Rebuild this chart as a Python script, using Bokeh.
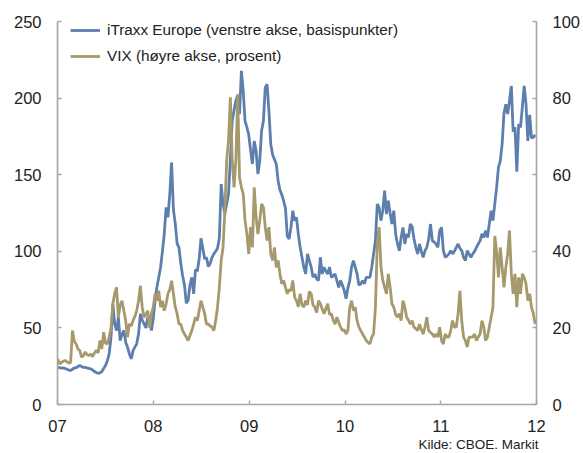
import pandas as pd
from bokeh.plotting import figure
from bokeh.models import (LinearAxis, Range1d, FixedTicker, DatetimeTickFormatter,
                          Legend, LegendItem, Title)
from bokeh.embed import file_html
from bokeh.resources import INLINE

# ---- data (weekly readings, Jan 2007 - Dec 2011) ----
start_date = "2007-01-02"
x_start = "2007-01-01"
x_end = "2012-01-01"
year_ticks = ["2007-01-01", "2008-01-01", "2009-01-01", "2010-01-01", "2011-01-01", "2012-01-01"]
left_ticks = [0, 50, 100, 150, 200, 250]
right_ticks = [0, 20, 40, 60, 80, 100]

itraxx = [
    24.3, 24.0, 23.8, 23.9, 23.5, 23.0, 22.5, 22.2, 23.0, 23.8,
    24.0, 24.8, 25.4, 24.8, 24.2, 24.3, 23.8, 23.5, 23.3, 22.5,
    21.5, 20.8, 20.4, 20.6, 21.5, 23.5, 25.4, 28.5, 33.0, 43.9,
    65.7, 52.6, 48.3, 57.0, 41.7, 46.0, 48.3, 40.7, 37.4, 33.0,
    29.8, 35.2, 37.5, 39.6, 46.1, 59.1, 55.0, 52.6, 50.0, 57.0,
    54.8, 48.3, 56.0, 67.8, 76.5, 83.0, 89.6, 100.0, 111.3, 128.7,
    122.2, 137.4, 158.0, 127.0, 118.0, 105.0, 102.6, 92.0, 84.0, 78.0,
    66.0, 68.0, 78.0, 83.0, 72.2, 88.0, 87.0, 95.0, 108.5, 102.0,
    95.0, 96.0, 90.0, 92.0, 96.0, 98.3, 100.0, 102.0, 108.5, 143.9,
    131.0, 124.3, 131.0, 137.4, 160.0, 185.0, 192.0, 198.3, 202.0, 189.6,
    217.8, 204.8, 185.0, 181.0, 176.0, 166.0, 157.0, 172.0, 165.7, 150.4,
    159.0, 178.7, 185.2, 207.0, 209.0, 191.7, 170.0, 163.0, 160.0, 157.0,
    146.1, 140.0, 137.0, 133.0, 128.0, 110.0, 108.0, 115.6, 126.5, 120.0,
    122.2, 111.3, 102.6, 96.1, 89.6, 85.2, 98.3, 93.9, 89.6, 83.0,
    85.2, 82.0, 80.9, 96.1, 85.2, 89.6, 87.0, 85.2, 89.6, 83.0,
    84.0, 85.2, 80.9, 76.5, 80.9, 78.0, 74.4, 69.0, 76.0, 80.9,
    89.6, 93.9, 89.6, 85.2, 78.0, 78.7, 80.9, 78.7, 83.0, 83.0,
    83.0, 89.6, 98.3, 107.0, 130.9, 128.7, 120.0, 126.5, 139.6, 124.3,
    133.0, 125.0, 117.8, 126.5, 111.3, 105.0, 100.4, 109.1, 115.6, 104.8,
    111.3, 109.1, 117.8, 116.0, 108.0, 102.6, 98.3, 104.8, 100.0, 96.1,
    100.4, 102.6, 108.0, 117.8, 107.0, 106.0, 104.8, 102.6, 113.5, 115.6,
    100.4, 96.1, 97.0, 98.3, 100.4, 98.3, 100.0, 102.6, 104.8, 102.0,
    100.4, 96.1, 93.9, 100.4, 98.3, 96.1, 98.3, 100.0, 102.6, 104.8,
    107.0, 111.3, 109.0, 113.5, 109.0, 117.8, 126.5, 120.0, 130.9, 141.7,
    154.8, 159.0, 170.0, 190.0, 196.0, 189.6, 198.3, 208.0, 178.0, 180.9,
    152.0, 183.0, 180.9, 193.9, 208.0, 196.1, 172.0, 189.0, 174.0, 174.3,
    176.0,
]

vix = [
    11.9, 10.6, 11.0, 11.3, 11.5, 11.2, 10.8, 11.0, 19.3, 16.5,
    15.8, 14.5, 14.1, 12.3, 12.8, 13.7, 13.0, 12.8, 13.2, 12.5,
    13.5, 14.1, 13.5, 16.7, 14.5, 18.9, 16.0, 15.8, 17.6, 20.0,
    26.3, 28.9, 30.6, 22.8, 26.0, 27.1, 24.5, 21.9, 17.6, 21.0,
    20.5, 21.9, 23.0, 24.5, 27.1, 31.0, 25.4, 22.8, 23.5, 24.5,
    20.0, 23.7, 25.4, 28.9, 27.1, 29.7, 25.4, 27.1, 24.5, 26.3,
    28.9, 30.0, 32.3, 28.9, 25.4, 23.7, 21.0, 21.0, 19.3, 18.4,
    17.6, 16.7, 18.0, 19.3, 21.0, 22.8, 21.9, 24.5, 27.1, 25.4,
    23.7, 21.0, 21.0, 20.5, 20.2, 19.3, 21.9, 25.4, 30.6, 37.6,
    41.0, 50.6, 63.7, 69.0, 80.2, 64.0, 56.7, 63.7, 81.0, 59.3,
    56.7, 55.0, 48.0, 44.5, 39.3, 46.3, 41.0, 56.7, 48.9, 44.5,
    48.0, 52.4, 51.5, 46.3, 42.8, 46.3, 39.3, 37.6, 41.0, 35.8,
    37.6, 34.1, 31.5, 32.4, 30.6, 28.9, 30.0, 29.7, 32.4, 28.0,
    27.1, 25.5, 28.9, 26.0, 25.4, 27.1, 26.0, 29.5, 28.9, 26.0,
    25.4, 24.0, 27.1, 26.3, 25.0, 23.7, 25.0, 26.3, 23.5, 23.7,
    22.0, 21.0, 22.8, 21.5, 20.2, 19.3, 19.5, 18.4, 19.3, 25.4,
    27.1, 24.5, 25.4, 21.9, 20.2, 19.3, 18.4, 17.6, 16.7, 16.2,
    15.8, 17.6, 18.4, 25.4, 41.9, 46.3, 36.0, 32.4, 30.6, 28.9,
    34.1, 30.6, 26.3, 25.4, 23.5, 22.8, 23.7, 21.9, 27.1, 25.4,
    22.8, 22.0, 21.0, 21.9, 20.2, 19.8, 19.3, 21.0, 19.5, 18.4,
    20.2, 22.8, 19.3, 18.8, 18.4, 17.6, 18.4, 17.6, 20.2, 16.7,
    15.8, 18.4, 17.6, 17.6, 19.3, 21.9, 20.2, 20.2, 23.7, 29.7,
    21.9, 17.6, 16.7, 15.0, 17.6, 17.6, 17.6, 18.4, 16.7, 17.6,
    18.4, 21.9, 20.2, 16.7, 17.6, 20.2, 22.8, 25.4, 44.0, 40.0,
    33.2, 41.0, 35.8, 30.6, 35.8, 39.3, 45.4, 34.1, 28.9, 34.1,
    25.4, 33.2, 28.9, 34.1, 33.2, 31.5, 27.1, 28.9, 25.4, 23.7,
    21.0,
]

label_itraxx = "iTraxx Europe (venstre akse, basispunkter)"
label_vix = "VIX (høyre akse, prosent)"
source_text = "Kilde: CBOE. Markit"

# ---- styling ----
BLUE = "#5d7fae"
KHAKI = "#a6996c"
AXIS = "#a6a6a6"
TEXT = "#222222"
FONT = "Liberation Sans"

dates = pd.date_range(start_date, periods=len(itraxx), freq="7D")

def ms(d):
    return pd.Timestamp(d).value / 1e6

p = figure(width=583, height=453, x_axis_type="datetime",
           output_backend="svg", toolbar_location=None,
           x_range=Range1d(ms(x_start), ms(x_end)),
           y_range=Range1d(0, 250),
           min_border_left=57, min_border_right=46,
           min_border_top=21, min_border_bottom=49)
p.extra_y_ranges = {"vix": Range1d(0, 100)}
p.outline_line_color = None
p.xgrid.visible = False
p.ygrid.visible = False
p.background_fill_color = "white"
p.border_fill_color = "white"

r1 = p.line(dates, itraxx, line_color=BLUE, line_width=2.8)
r2 = p.line(dates, vix, line_color=KHAKI, line_width=2.8, y_range_name="vix")

right = LinearAxis(y_range_name="vix")
p.add_layout(right, "right")

for ax in [p.yaxis[0], right]:
    ax.major_label_text_font_size = "16.5px"
    ax.major_label_text_font = FONT
    ax.major_label_text_color = TEXT

p.yaxis[0].ticker = FixedTicker(ticks=left_ticks)
right.ticker = FixedTicker(ticks=right_ticks)
p.yaxis[0].major_label_standoff = 16
right.major_label_standoff = 16

p.xaxis.ticker = FixedTicker(ticks=[ms(d) for d in year_ticks])
p.xaxis.formatter = DatetimeTickFormatter(years="%y", months="%y", days="%y",
                                          hours="%y", hourmin="%y")
p.xaxis.major_label_text_font_size = "16.5px"
p.xaxis.major_label_text_font = FONT
p.xaxis.major_label_text_color = TEXT
p.xaxis.major_label_standoff = 15

for ax in [p.xaxis[0], p.yaxis[0], right]:
    ax.axis_line_color = AXIS
    ax.axis_line_width = 1.6
    ax.major_tick_line_color = AXIS
    ax.major_tick_line_width = 1.4
    ax.major_tick_in = 4
    ax.major_tick_out = 0
    ax.minor_tick_line_color = None

legend = Legend(items=[LegendItem(label=label_itraxx, renderers=[r1]),
                       LegendItem(label=label_vix, renderers=[r2])],
                location=(13, 338))
legend.glyph_width = 30
legend.glyph_height = 20
legend.label_height = 20
legend.label_standoff = 7
legend.spacing = 6
legend.padding = 0
legend.margin = 0
legend.border_line_color = None
legend.background_fill_alpha = 0
legend.label_text_font = FONT
legend.label_text_font_size = "15.3px"
legend.label_text_color = TEXT
p.add_layout(legend)

src = Title(text=source_text, align="right", text_font=FONT,
            text_font_size="13.5px", text_font_style="normal",
            text_color=TEXT, standoff=0, offset=-2)
p.add_layout(src, "below")

open("out.html", "w").write(file_html(p, INLINE))
